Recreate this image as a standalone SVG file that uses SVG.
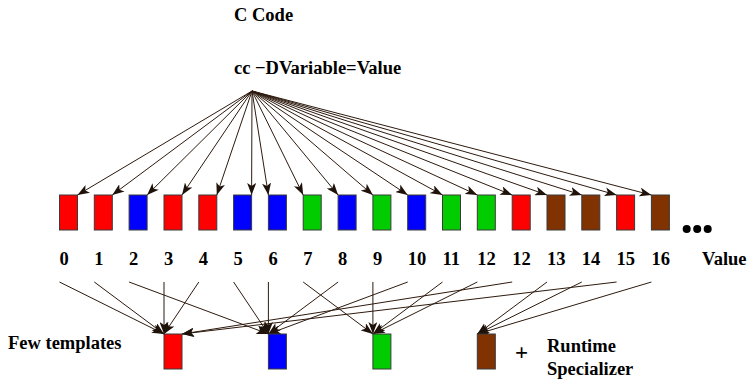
<svg xmlns="http://www.w3.org/2000/svg" width="751" height="379" viewBox="0 0 751 379">
<defs>
<style>
text{font-family:"Liberation Serif","Times New Roman",serif;font-weight:bold;font-size:18.5px;fill:#000}
.b{stroke:#3a3a3a;stroke-width:1}
.r{fill:#ff0000}.u{fill:#0000ff}.g{fill:#00cc00}.n{fill:#803300}
#conn line{stroke:#2e1a0e;stroke-width:1;marker-end:url(#ah)}
</style>
<marker id="ah" markerUnits="userSpaceOnUse" markerWidth="13" markerHeight="9" refX="12" refY="4.5" orient="auto">
<path d="M0,0 L12,4.5 L0,9 L3,4.5 z" fill="#1e120a"/>
</marker>
</defs>
<rect width="751" height="379" fill="#fff"/>
<text x="234" y="20.5">C Code</text>
<text x="234" y="73.5">cc −DVariable=Value</text>
<g id="conn">
<line x1="252" y1="91" x2="77.5" y2="195"/>
<line x1="252" y1="91" x2="112.3" y2="195"/>
<line x1="252" y1="91" x2="147.1" y2="195"/>
<line x1="252" y1="91" x2="182" y2="195"/>
<line x1="252" y1="91" x2="216.8" y2="195"/>
<line x1="252" y1="91" x2="251.6" y2="195"/>
<line x1="252" y1="91" x2="268.4" y2="195"/>
<line x1="252" y1="91" x2="303.2" y2="195"/>
<line x1="252" y1="91" x2="338.1" y2="195"/>
<line x1="252" y1="91" x2="372.9" y2="195"/>
<line x1="252" y1="91" x2="407.7" y2="195"/>
<line x1="252" y1="91" x2="442.5" y2="195"/>
<line x1="252" y1="91" x2="477.3" y2="195"/>
<line x1="252" y1="91" x2="512.2" y2="195"/>
<line x1="252" y1="91" x2="547" y2="195"/>
<line x1="252" y1="91" x2="581.8" y2="195"/>
<line x1="252" y1="91" x2="616.6" y2="195"/>
<line x1="252" y1="91" x2="651.4" y2="195"/>
<line x1="59.5" y1="282" x2="164" y2="334"/>
<line x1="94.3" y1="282" x2="164" y2="334"/>
<line x1="129.1" y1="282" x2="268.4" y2="334"/>
<line x1="164" y1="282" x2="164" y2="334"/>
<line x1="198.8" y1="282" x2="164" y2="334"/>
<line x1="233.6" y1="282" x2="268.4" y2="334"/>
<line x1="268.4" y1="282" x2="268.4" y2="334"/>
<line x1="303.2" y1="282" x2="372.9" y2="334"/>
<line x1="338.1" y1="282" x2="268.4" y2="334"/>
<line x1="372.9" y1="282" x2="372.9" y2="334"/>
<line x1="407.7" y1="282" x2="268.4" y2="334"/>
<line x1="442.5" y1="282" x2="372.9" y2="334"/>
<line x1="477.3" y1="282" x2="372.9" y2="334"/>
<line x1="512.2" y1="282" x2="182" y2="334"/>
<line x1="547" y1="282" x2="477.3" y2="334"/>
<line x1="581.8" y1="282" x2="477.3" y2="334"/>
<line x1="616.6" y1="282" x2="182" y2="334"/>
<line x1="651.4" y1="282" x2="477.3" y2="334"/>
</g>
<g id="v0"><rect class="b r" x="59.5" y="195" width="18" height="35"/><text x="59.5" y="265">0</text></g>
<g id="v1"><rect class="b r" x="94.3" y="195" width="18" height="35"/><text x="94.3" y="265">1</text></g>
<g id="v2"><rect class="b u" x="129.1" y="195" width="18" height="35"/><text x="129.1" y="265">2</text></g>
<g id="v3"><rect class="b r" x="164" y="195" width="18" height="35"/><text x="164" y="265">3</text></g>
<g id="v4"><rect class="b r" x="198.8" y="195" width="18" height="35"/><text x="198.8" y="265">4</text></g>
<g id="v5"><rect class="b u" x="233.6" y="195" width="18" height="35"/><text x="233.6" y="265">5</text></g>
<g id="v6"><rect class="b u" x="268.4" y="195" width="18" height="35"/><text x="268.4" y="265">6</text></g>
<g id="v7"><rect class="b g" x="303.2" y="195" width="18" height="35"/><text x="303.2" y="265">7</text></g>
<g id="v8"><rect class="b u" x="338.1" y="195" width="18" height="35"/><text x="338.1" y="265">8</text></g>
<g id="v9"><rect class="b g" x="372.9" y="195" width="18" height="35"/><text x="372.9" y="265">9</text></g>
<g id="v10"><rect class="b u" x="407.7" y="195" width="18" height="35"/><text x="407.7" y="265">10</text></g>
<g id="v11"><rect class="b g" x="442.5" y="195" width="18" height="35"/><text x="442.5" y="265">11</text></g>
<g id="v12"><rect class="b g" x="477.3" y="195" width="18" height="35"/><text x="477.3" y="265">12</text></g>
<g id="v12b"><rect class="b r" x="512.2" y="195" width="18" height="35"/><text x="512.2" y="265">12</text></g>
<g id="v13"><rect class="b n" x="547" y="195" width="18" height="35"/><text x="547" y="265">13</text></g>
<g id="v14"><rect class="b n" x="581.8" y="195" width="18" height="35"/><text x="581.8" y="265">14</text></g>
<g id="v15"><rect class="b r" x="616.6" y="195" width="18" height="35"/><text x="616.6" y="265">15</text></g>
<g id="v16"><rect class="b n" x="651.4" y="195" width="18" height="35"/><text x="651.4" y="265">16</text></g>
<g id="dots"><circle cx="686.7" cy="229" r="4"/><circle cx="697.2" cy="229" r="4"/><circle cx="707.7" cy="229" r="4"/></g>
<text x="702" y="265">Value</text>
<text x="8" y="349">Few templates</text>
<g id="t-red"><rect class="b r" x="164" y="334" width="18" height="35"/></g>
<g id="t-blue"><rect class="b u" x="268.4" y="334" width="18" height="35"/></g>
<g id="t-green"><rect class="b g" x="372.9" y="334" width="18" height="35"/></g>
<g id="t-brown"><rect class="b n" x="477.3" y="334" width="18" height="35"/></g>
<text x="515" y="360" style="font-size:23px">+</text>
<text x="547" y="352">Runtime</text>
<text x="547" y="375">Specializer</text>
</svg>
